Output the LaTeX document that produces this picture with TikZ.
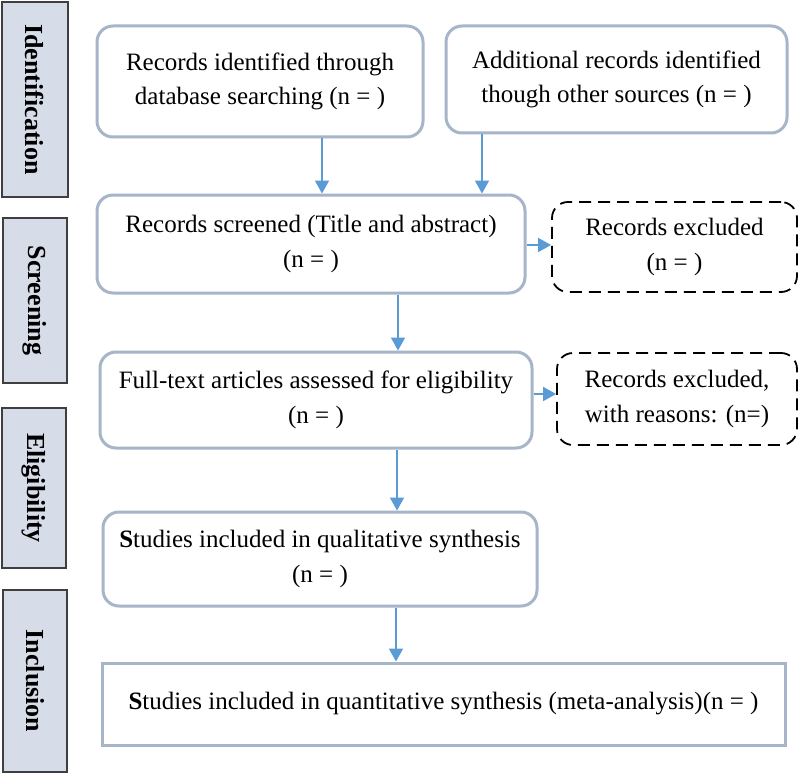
\documentclass[tikz,border=0pt]{standalone}
\usepackage{fontspec}
\setmainfont{Liberation Serif}
\usetikzlibrary{arrows.meta}
\definecolor{boxline}{HTML}{A7B5C9}
\definecolor{arrowblue}{HTML}{5B9BD5}
\definecolor{labelfill}{HTML}{D7DDE8}
\definecolor{labelline}{HTML}{3F3F3F}
\tikzset{
  txt/.style={font=\fontsize{25}{34.5}\selectfont, align=center, inner sep=0pt},
  rbox/.style={txt, draw=boxline, line width=3pt, rounded corners=16pt},
  sbox/.style={txt, draw=boxline, line width=3pt},
  dbox/.style={txt, draw=black, line width=1.8pt, dash pattern=on 12pt off 7pt, rounded corners=16pt},
  phase/.style={draw=labelline, fill=labelfill, line width=1.8pt, inner sep=0pt},
  phasetxt/.style={rotate=-90, font=\bfseries\fontsize{26}{30}\selectfont},
  arr/.style={draw=arrowblue, line width=1.8pt, -{Triangle[length=13pt,width=14pt]}}
}
\begin{document}
\begin{tikzpicture}[x=1pt,y=-1pt]
\useasboundingbox (0,0) rectangle (800,773);
\fill[white] (0,0) rectangle (800,773);
% phase labels
\node[phase, minimum width=66, minimum height=195] (l1) at (35,99.5) {};
\node[phasetxt] (t1) at (l1.center) {Identification};
\node[phase, minimum width=64, minimum height=165] (l2) at (35,300.5) {};
\node[phasetxt] (t2) at (l2.center) {Screening};
\node[phase, minimum width=64, minimum height=160] (l3) at (34,488) {};
\node[phasetxt] (t3) at (l3.center) {Eligibility};
\node[phase, minimum width=64, minimum height=182] (l4) at (35,681) {};
\node[phasetxt] (t4) at (l4.center) {Inclusion};
% boxes
\node[rbox, minimum width=326, minimum height=111] (b1) at (260,81.5)
  {Records identified through\\database searching (n = )};
\node[rbox, minimum width=341, minimum height=107] (b2) at (616.5,79.5)
  {Additional records identified\\though other sources (n = )};
\node[rbox, minimum width=428, minimum height=98] (b3) at (311,244)
  {Records screened (Title and abstract)\\(n = )};
\node[dbox, minimum width=245, minimum height=90] (e1) at (674.5,247)
  {Records excluded\\(n = )};
\node[rbox, minimum width=432, minimum height=96] (b4) at (316,400)
  {Full-text articles assessed for eligibility\\(n = )};
\node[dbox, minimum width=240, minimum height=92] (e2) at (677,399)
  {Records excluded,\\with reasons: (n=)};
\node[rbox, minimum width=434, minimum height=94] (b5) at (320,559)
  {\textbf{S}tudies included in qualitative synthesis\\(n = )};
\node[sbox, minimum width=683, minimum height=82] (b6) at (443.5,704)
  {\textbf{S}tudies included in quantitative synthesis (meta-analysis)(n = )};
% connector positions
\coordinate (x1) at (322,0);
\coordinate (x2) at (482,0);
\coordinate (x3) at (398,0);
\coordinate (x4) at (397,0);
\coordinate (x5) at (396,0);
\coordinate (y1) at (0,245);
\coordinate (y2) at (0,394);
% connectors
\draw[arr] (b1.south -| x1) -- (b3.north -| x1);
\draw[arr] (b2.south -| x2) -- (b3.north -| x2);
\draw[arr] (b3.east |- y1) -- (e1.west |- y1);
\draw[arr] (b3.south -| x3) -- (b4.north -| x3);
\draw[arr] (b4.east |- y2) -- (e2.west |- y2);
\draw[arr] (b4.south -| x4) -- (b5.north -| x4);
\draw[arr] (b5.south -| x5) -- (b6.north -| x5);
\end{tikzpicture}
\end{document}
